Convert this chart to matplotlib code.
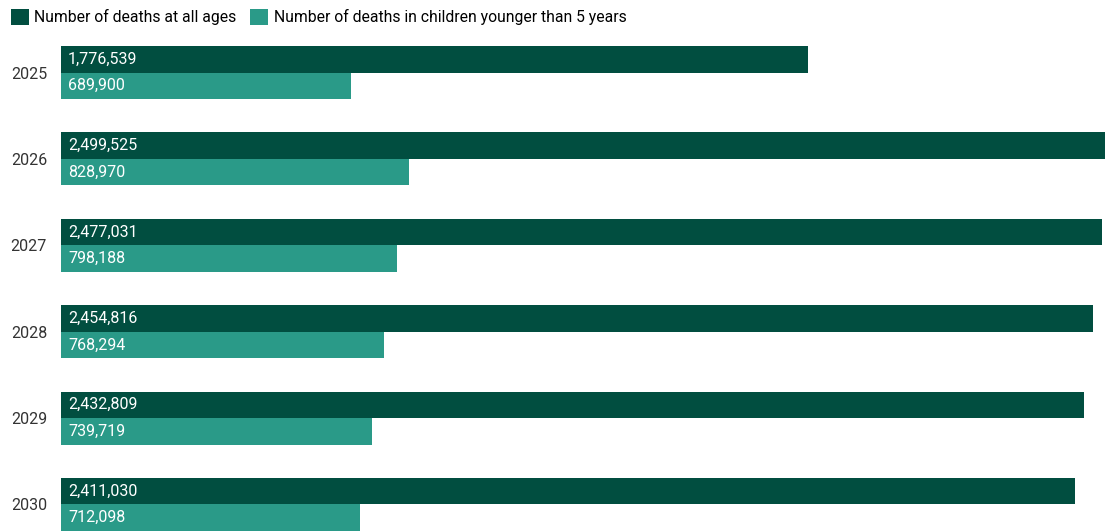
import matplotlib.pyplot as plt
import numpy as np

plt.rcParams['font.family'] = ['Roboto', 'DejaVu Sans']

# data
years = ['2025', '2026', '2027', '2028', '2029', '2030']
all_ages = [1776539, 2499525, 2477031, 2454816, 2432809, 2411030]
under5 = [689900, 828970, 798188, 768294, 739719, 712098]

dark = '#014e40'
teal = '#2a9a88'
bar_h = 0.307
fs = 11.5

fig = plt.figure(figsize=(11.05, 5.32), dpi=100)
# the axis runs a little past the right edge, so the longest bar is cut off
ax = fig.add_axes([61 / 1105, 1 / 532, 1051 / 1105, 485 / 532])

y = np.arange(len(years))
b1 = ax.barh(y - bar_h / 2, all_ages, height=bar_h, color=dark, edgecolor='none',
             label='Number of deaths at all ages')
b2 = ax.barh(y + bar_h / 2, under5, height=bar_h, color=teal, edgecolor='none',
             label='Number of deaths in children younger than 5 years')

for yy, v in zip(y - bar_h / 2, all_ages):
    ax.annotate(f'{v:,}', (0, yy), xytext=(5, 0), textcoords='offset points',
                va='center', ha='left', color='white', fontsize=fs)
for yy, v in zip(y + bar_h / 2, under5):
    ax.annotate(f'{v:,}', (0, yy), xytext=(5, 0), textcoords='offset points',
                va='center', ha='left', color='white', fontsize=fs)

ax.set_xlim(0, 2500000)
ax.set_ylim(len(years) - 1 + bar_h, -bar_h)
ax.set_yticks(y)
ax.set_yticklabels(years, fontsize=fs, color='#333333')
ax.tick_params(axis='y', length=0, pad=10)
ax.set_xticks([])
for s in ax.spines.values():
    s.set_visible(False)

fig.legend(handles=[b1, b2], loc='upper left', bbox_to_anchor=(11 / 1105, 1 - 9 / 532),
           ncol=2, frameon=False, fontsize=11.3, handlelength=1.12, handleheight=1.17,
           handletextpad=0.35, columnspacing=0.9, borderaxespad=0, borderpad=0)

fig.savefig('out.png', dpi=100)
